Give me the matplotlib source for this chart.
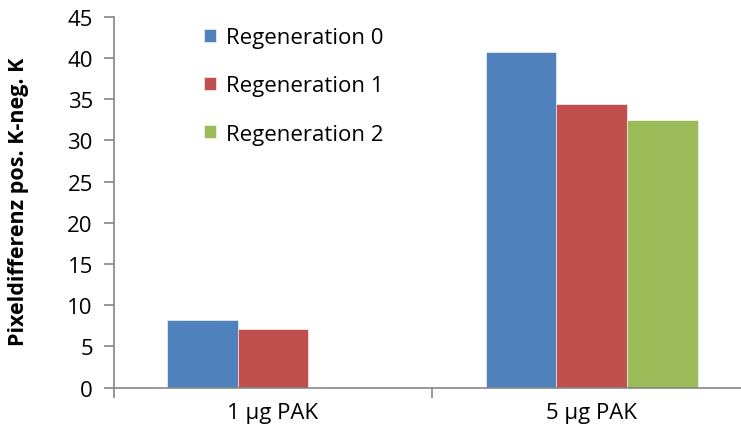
import numpy as np
import matplotlib.pyplot as plt

# data
categories = ["1 µg PAK", "5 µg PAK"]
series_names = ["Regeneration 0", "Regeneration 1", "Regeneration 2"]
reg0 = [8.2, 40.7]
reg1 = [7.1, 34.4]
reg2 = [0.0, 32.4]
colors = ["#4f81bd", "#c0504d", "#9bbb59"]

plt.rcParams['font.family'] = ['Open Sans', 'DejaVu Sans']

fig = plt.figure(figsize=(7.41, 4.39), dpi=100)
ax = fig.add_axes([0.1534, 0.1146, 0.86, 0.8454])

x = np.arange(len(categories))
w = 0.2216
for i, (vals, name) in enumerate(zip([reg0, reg1, reg2], series_names)):
    ax.bar(x + (i - 1) * w, vals, width=w, color=colors[i], label=name,
           edgecolor="white", linewidth=0.4)

ax.set_xlim(-0.5, 1.5)
ax.set_ylim(0, 45)
ax.set_yticks(range(0, 46, 5))
ax.set_xticks(x)
ax.set_xticklabels(categories)
ax.set_xticks([-0.5, 0.5, 1.5], minor=True)
ax.tick_params(axis='x', which='major', length=0, labelsize=16, pad=10)
ax.tick_params(axis='x', which='minor', length=7, color="#868686", width=1.2)
ax.tick_params(axis='y', length=7, color="#868686", width=1.2, labelsize=16, pad=8)

for side in ["top", "right"]:
    ax.spines[side].set_visible(False)
for side in ["left", "bottom"]:
    ax.spines[side].set_color("#868686")
    ax.spines[side].set_linewidth(1.2)

ax.set_ylabel("Pixeldifferenz pos. K-neg. K", fontsize=15.5, fontweight="bold")
ax.yaxis.set_label_coords(-0.133, 0.503)

ax.legend(loc="upper left", bbox_to_anchor=(0.11, 1.025), frameon=False,
          fontsize=16, handlelength=0.55, handleheight=0.55,
          labelspacing=1.22, handletextpad=0.45)

fig.savefig("out.png", dpi=100)
